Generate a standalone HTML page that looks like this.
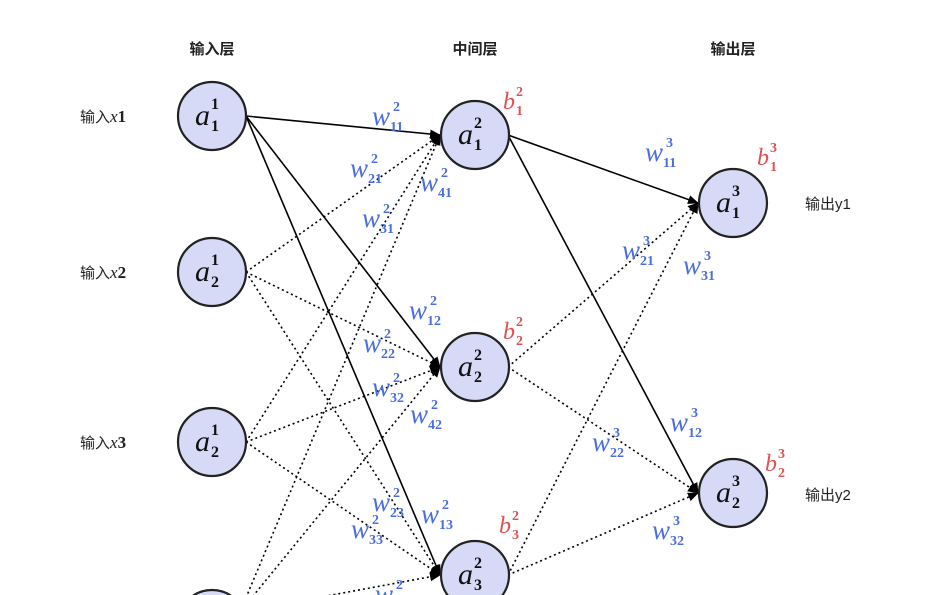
<!DOCTYPE html>
<html><head><meta charset="utf-8"><style>
html,body{margin:0;padding:0;background:#fff;width:945px;height:595px;overflow:hidden;}
svg{display:block;}
.w{font-family:"Liberation Serif",serif;font-style:italic;font-size:27px;fill:#4a6ee0;}
.ws{font-family:"Liberation Serif",serif;font-weight:bold;font-size:14px;fill:#4a6ee0;}
.b{font-family:"Liberation Serif",serif;font-style:italic;font-size:24px;fill:#e05050;}
.bs{font-family:"Liberation Serif",serif;font-weight:bold;font-size:14px;fill:#e05050;}
.a{font-family:"Liberation Serif",serif;font-style:italic;font-size:30px;fill:#111;}
.as{font-family:"Liberation Serif",serif;font-weight:bold;font-size:16px;fill:#111;}
.h{font-family:"Liberation Sans","Noto Sans CJK SC",sans-serif;font-size:15px;font-weight:bold;fill:#222;}
.l{font-family:"Liberation Sans","Noto Sans CJK SC",sans-serif;font-size:15px;fill:#222;}
.lx{font-family:"Liberation Serif",serif;font-size:17px;fill:#222;}
</style></head><body>
<svg width="945" height="595" viewBox="0 0 945 595" xmlns="http://www.w3.org/2000/svg">
<defs><marker id="ar" markerWidth="11" markerHeight="9" refX="10" refY="4.5" orient="auto" markerUnits="userSpaceOnUse"><path d="M0,0 L11,4.5 L0,9 z" fill="#000"/></marker></defs>
<text class="h" x="212" y="54" text-anchor="middle">输入层</text>
<text class="h" x="475" y="54" text-anchor="middle">中间层</text>
<text class="h" x="733" y="54" text-anchor="middle">输出层</text>
<text class="l" x="80" y="122">输入<tspan class="lx" font-style="italic">x</tspan><tspan class="lx" font-weight="bold">1</tspan></text>
<text class="l" x="80" y="278">输入<tspan class="lx" font-style="italic">x</tspan><tspan class="lx" font-weight="bold">2</tspan></text>
<text class="l" x="80" y="448">输入<tspan class="lx" font-style="italic">x</tspan><tspan class="lx" font-weight="bold">3</tspan></text>
<text class="l" x="805" y="209">输出y1</text>
<text class="l" x="805" y="500">输出y2</text>
<g stroke="#000" stroke-width="1.6" fill="none" marker-end="url(#ar)">
<line x1="246" y1="116" x2="440" y2="135"/>
<line x1="246" y1="116" x2="440" y2="367"/>
<line x1="246" y1="116" x2="440" y2="575"/>
<line x1="508" y1="135" x2="698" y2="203"/>
<line x1="508" y1="135" x2="698" y2="493"/>
</g>
<g stroke="#000" stroke-width="1.6" stroke-dasharray="2,3" fill="none" marker-end="url(#ar)">
<line x1="246" y1="272" x2="440" y2="135"/>
<line x1="246" y1="272" x2="440" y2="367"/>
<line x1="246" y1="272" x2="440" y2="575"/>
<line x1="246" y1="442" x2="440" y2="135"/>
<line x1="246" y1="442" x2="440" y2="367"/>
<line x1="246" y1="442" x2="440" y2="575"/>
<line x1="240" y1="612" x2="440" y2="135"/>
<line x1="240" y1="612" x2="440" y2="367"/>
<line x1="240" y1="612" x2="440" y2="575"/>
<line x1="508" y1="367" x2="698" y2="203"/>
<line x1="508" y1="367" x2="698" y2="493"/>
<line x1="508" y1="575" x2="698" y2="203"/>
<line x1="508" y1="575" x2="698" y2="493"/>
</g>
<g fill="#d6daf6" stroke="#222" stroke-width="2.2">
<circle cx="212" cy="116" r="34"/><circle cx="212" cy="272" r="34"/><circle cx="212" cy="442" r="34"/><circle cx="212" cy="624" r="34"/>
<circle cx="475" cy="135" r="34"/><circle cx="475" cy="367" r="34"/><circle cx="475" cy="575" r="34"/>
<circle cx="733" cy="203" r="34"/><circle cx="733" cy="493" r="34"/>
</g>
<g>
<text class="a" x="195" y="125">a</text><text class="as" x="211" y="109">1</text><text class="as" x="211" y="131">1</text>
<text class="a" x="195" y="281">a</text><text class="as" x="211" y="265">1</text><text class="as" x="211" y="287">2</text>
<text class="a" x="195" y="451">a</text><text class="as" x="211" y="435">1</text><text class="as" x="211" y="457">2</text>
<text class="a" x="458" y="144">a</text><text class="as" x="474" y="128">2</text><text class="as" x="474" y="150">1</text>
<text class="a" x="458" y="376">a</text><text class="as" x="474" y="360">2</text><text class="as" x="474" y="382">2</text>
<text class="a" x="458" y="584">a</text><text class="as" x="474" y="568">2</text><text class="as" x="474" y="590">3</text>
<text class="a" x="716" y="212">a</text><text class="as" x="732" y="196">3</text><text class="as" x="732" y="218">1</text>
<text class="a" x="716" y="502">a</text><text class="as" x="732" y="486">3</text><text class="as" x="732" y="508">2</text>
</g>
<g>
<text class="w" x="372" y="125">w</text><text class="ws" x="393" y="111">2</text><text class="ws" x="390" y="131">11</text>
<text class="w" x="350" y="177">w</text><text class="ws" x="371" y="163">2</text><text class="ws" x="368" y="183">21</text>
<text class="w" x="420" y="191">w</text><text class="ws" x="441" y="177">2</text><text class="ws" x="438" y="197">41</text>
<text class="w" x="362" y="227">w</text><text class="ws" x="383" y="213">2</text><text class="ws" x="380" y="233">31</text>
<text class="w" x="409" y="319">w</text><text class="ws" x="430" y="305">2</text><text class="ws" x="427" y="325">12</text>
<text class="w" x="363" y="352">w</text><text class="ws" x="384" y="338">2</text><text class="ws" x="381" y="358">22</text>
<text class="w" x="372" y="396">w</text><text class="ws" x="393" y="382">2</text><text class="ws" x="390" y="402">32</text>
<text class="w" x="410" y="423">w</text><text class="ws" x="431" y="409">2</text><text class="ws" x="428" y="429">42</text>
<text class="w" x="372" y="511">w</text><text class="ws" x="393" y="497">2</text><text class="ws" x="390" y="517">23</text>
<text class="w" x="421" y="523">w</text><text class="ws" x="442" y="509">2</text><text class="ws" x="439" y="529">13</text>
<text class="w" x="351" y="538">w</text><text class="ws" x="372" y="524">2</text><text class="ws" x="369" y="544">33</text>
<text class="w" x="375" y="603">w</text><text class="ws" x="396" y="589">2</text>
<text class="w" x="645" y="161">w</text><text class="ws" x="666" y="147">3</text><text class="ws" x="663" y="167">11</text>
<text class="w" x="622" y="259">w</text><text class="ws" x="643" y="245">3</text><text class="ws" x="640" y="265">21</text>
<text class="w" x="683" y="274">w</text><text class="ws" x="704" y="260">3</text><text class="ws" x="701" y="280">31</text>
<text class="w" x="670" y="431">w</text><text class="ws" x="691" y="417">3</text><text class="ws" x="688" y="437">12</text>
<text class="w" x="592" y="451">w</text><text class="ws" x="613" y="437">3</text><text class="ws" x="610" y="457">22</text>
<text class="w" x="652" y="539">w</text><text class="ws" x="673" y="525">3</text><text class="ws" x="670" y="545">32</text>
</g>
<g>
<text class="b" x="503" y="109">b</text><text class="bs" x="516" y="96">2</text><text class="bs" x="516" y="115">1</text>
<text class="b" x="503" y="339">b</text><text class="bs" x="516" y="326">2</text><text class="bs" x="516" y="345">2</text>
<text class="b" x="499" y="533">b</text><text class="bs" x="512" y="520">2</text><text class="bs" x="512" y="539">3</text>
<text class="b" x="757" y="165">b</text><text class="bs" x="770" y="152">3</text><text class="bs" x="770" y="171">1</text>
<text class="b" x="765" y="471">b</text><text class="bs" x="778" y="458">3</text><text class="bs" x="778" y="477">2</text>
</g>
</svg>
</body></html>
